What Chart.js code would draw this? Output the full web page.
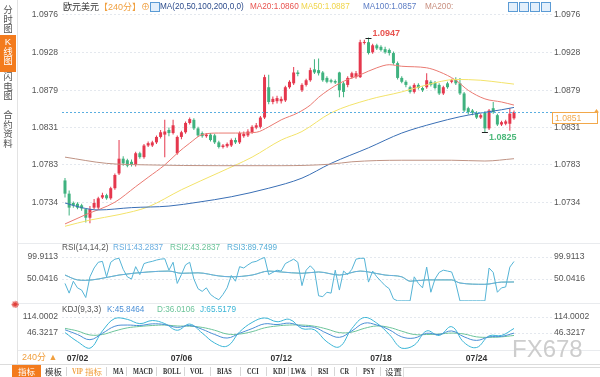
<!DOCTYPE html>
<html>
<head>
<meta charset="utf-8">
<script src="https://cdn.jsdelivr.net/npm/chart.js@4.4.1/dist/chart.umd.min.js"></script>
<style>
  body { margin: 0; background: #fff; font-family: "Liberation Sans", "Noto Sans CJK SC", sans-serif; }
  #wrap { position: relative; width: 600px; height: 377px; overflow: hidden; }
  canvas { position: absolute; left: 0; }
  .t { position: absolute; white-space: nowrap; font-size: 8.2px; line-height: 10px; }
  .hl { position: absolute; height: 1px; background: #e9ebee; }
  .tab { position: absolute; left: 0; width: 16px; text-align: center; font-size: 9.5px; line-height: 9.6px; color: #555; }
  .tab.on { background: #f37b1d; color: #fff; }
  .ico { position: absolute; top: 2px; width: 8px; height: 8px; border: 1px solid #5b9bd5; background: #e3effb; }
  #bar { position: absolute; left: 0; top: 364px; width: 600px; height: 13px; border-top: 1px solid #dcdcdc; font-family: "Liberation Serif", "Noto Sans CJK SC", serif; font-size: 8.8px; font-weight: bold; color: #333; }
  #bar span { position: absolute; top: 1px; line-height: 11px; white-space: nowrap; transform: scaleX(0.72); transform-origin: left center; }
  #bar span.cjk { font-family: "Noto Sans CJK SC", sans-serif; font-size: 8.5px; font-weight: normal; transform: none; }
  #bar i { position: absolute; top: 2px; width: 1px; height: 9px; background: #d6d6d6; }
</style>
</head>
<body>
<div id="wrap">
  <canvas id="main" width="600" height="240" style="top:0"></canvas>
  <canvas id="rsi" width="600" height="64" style="top:240px"></canvas>
  <canvas id="kdj" width="600" height="60" style="top:304px"></canvas>

  <!-- left tabs -->
  <div style="position:absolute;left:17px;top:0;width:1px;height:364px;background:#e3e3e3"></div>
  <div class="tab" style="top:5px">分<br>时<br>图</div>
  <div class="tab on" style="top:35px;height:37px;padding-top:2px;box-sizing:border-box">K<br>线<br>图</div>
  <div class="tab" style="top:72px">闪<br>电<br>图</div>
  <div class="tab" style="top:110px">合<br>约<br>资<br>料</div>

  <!-- panel separators -->
  <div class="hl" style="left:18px;top:243px;width:582px"></div>
  <div class="hl" style="left:18px;top:303px;width:582px"></div>
  <div class="hl" style="left:18px;top:350px;width:582px"></div>

  <!-- header -->
  <span class="t" style="left:63px;top:2px;color:#333;font-size:9px">欧元美元</span>
  <span class="t" style="left:99px;top:2px;color:#f0a040;font-size:9px">【240分】</span>
  <span class="t" style="left:141px;top:2px;color:#f0a040;font-size:9px">⊕</span>
  <span class="ico" style="left:150px"></span>
  <span class="t" style="left:160px;top:2px;color:#2d4c8c">MA(20,50,100,200,0,0)</span>
  <span class="t" id="lblMa20" style="left:250px;top:2px;color:#e8534f"></span>
  <span class="t" id="lblMa50" style="left:301px;top:2px;color:#f0d54a"></span>
  <span class="t" id="lblMa100" style="left:363px;top:2px;color:#5b7cc4"></span>
  <span class="t" style="left:425px;top:2px;color:#c99080">MA200:</span>
  <span class="ico" style="left:508px"></span>
  <span class="ico" style="left:519px"></span>
  <span class="ico" style="left:530px"></span>
  <span class="ico" style="left:541px"></span>

  <!-- indicator labels -->
  <span class="t" style="left:62px;top:243px;color:#555">RSI(14,14,2)</span>
  <span class="t" id="lblRsi1" style="left:113px;top:243px;color:#6aaee0"></span>
  <span class="t" id="lblRsi2" style="left:170px;top:243px;color:#6cc49a"></span>
  <span class="t" id="lblRsi3" style="left:227px;top:243px;color:#5ab0d8"></span>
  <span class="t" style="left:11px;top:300px;color:#e0403a;font-size:10px">✺</span>
  <span class="t" style="left:62px;top:305px;color:#555">KDJ(9,3,3)</span>
  <span class="t" id="lblK" style="left:107px;top:305px;color:#4a8fd6"></span>
  <span class="t" id="lblD" style="left:157px;top:305px;color:#6cc49a"></span>
  <span class="t" id="lblJ" style="left:200px;top:305px;color:#3ab5d6"></span>

  <span class="t" style="left:22px;top:352px;color:#f0a040;font-size:9px">240分 ▲</span>
  <span class="t" style="left:512px;top:336px;color:#cdcdcd;font-size:24px;line-height:26px">FX678</span>

  <!-- bottom toolbar -->
  <div id="bar">
    <span class="cjk" style="left:12px;top:0;width:29px;height:13px;background:#f37b1d;color:#fff;text-align:center;line-height:13px">指标</span>
    <span class="cjk" style="left:45px">模板</span><i style="left:66px"></i>
    <span style="left:72px;color:#f0a040">VIP</span><span class="cjk" style="left:85px;color:#f0a040">指标</span><i style="left:106px"></i>
    <span style="left:113px">MA</span><i style="left:126px"></i>
    <span style="left:133px">MACD</span><i style="left:156px"></i>
    <span style="left:163px">BOLL</span><i style="left:184px"></i>
    <span style="left:190px">VOL</span><i style="left:210px"></i>
    <span style="left:217px">BIAS</span><i style="left:240px"></i>
    <span style="left:247px">CCI</span><i style="left:266px"></i>
    <span style="left:273px">KDJ</span><i style="left:288px"></i>
    <span style="left:291px">LW&amp;</span><i style="left:311px"></i>
    <span style="left:318px">RSI</span><i style="left:334px"></i>
    <span style="left:340px">CR</span><i style="left:356px"></i>
    <span style="left:363px">PSY</span><i style="left:380px"></i>
    <span class="cjk" style="left:385px">设置</span>
    <div style="position:absolute;left:403px;top:2px;width:196px;height:10px;border:1px solid #dcdcdc;border-bottom:none"></div>
  </div>
</div>

<script>
// EUR/USD 240-minute candles
const opens = [1.0763,1.0746,1.0734,1.0733,1.0731,1.0726,1.0715,1.0728,1.0728,1.0741,1.0744,1.0740,1.0753,1.0772,1.0791,1.0789,1.0787,1.0783,1.0798,1.0793,
  1.0808,1.0808,1.0812,1.0819,1.0822,1.0828,1.0824,1.0798,1.0819,1.0825,1.0837,1.0841,1.0830,1.0824,1.0820,1.0822,1.0821,1.0812,1.0806,1.0807,
  1.0808,1.0815,1.0812,1.0820,1.0821,1.0825,1.0831,1.0832,1.0844,1.0883,1.0864,1.0865,1.0865,1.0866,1.0883,1.0888,1.0902,1.0879,1.0886,1.0892,
  1.0906,1.0905,1.0902,1.0895,1.0892,1.0891,1.0902,1.0888,1.0886,1.0896,1.0896,1.0896,1.0940,1.0941,1.0928,1.0937,1.0935,1.0932,1.0931,1.0927,
  1.0914,1.0895,1.0890,1.0883,1.0877,1.0886,1.0882,1.0883,1.0890,1.0889,1.0886,1.0875,1.0888,1.0890,1.0893,1.0888,1.0875,1.0856,1.0853,1.0850,
  1.0844,1.0850,1.0830,1.0856,1.0847,1.0835,1.0836,1.0836,1.0843];
const highs = [1.0766,1.0750,1.0736,1.0735,1.0733,1.0727,1.0730,1.0739,1.0742,1.0747,1.0746,1.0755,1.0772,1.0815,1.0794,1.0791,1.0790,1.0800,1.0800,1.0810,
  1.0813,1.0814,1.0821,1.0828,1.0841,1.0831,1.0841,1.0821,1.0827,1.0839,1.0844,1.0843,1.0832,1.0826,1.0824,1.0824,1.0823,1.0814,1.0810,1.0812,
  1.0817,1.0818,1.0826,1.0826,1.0829,1.0834,1.0837,1.0846,1.0899,1.0899,1.0871,1.0872,1.0871,1.0885,1.0892,1.0909,1.0905,1.0888,1.0894,1.0908,
  1.0919,1.0920,1.0904,1.0897,1.0894,1.0893,1.0903,1.0890,1.0897,1.0903,1.0904,1.0944,1.0944,1.0947,1.0939,1.0939,1.0937,1.0935,1.0933,1.0929,
  1.0916,1.0897,1.0892,1.0885,1.0888,1.0888,1.0884,1.0901,1.0892,1.0891,1.0888,1.0885,1.0890,1.0894,1.0896,1.0895,1.0877,1.0858,1.0855,1.0852,
  1.0849,1.0852,1.0855,1.0864,1.0849,1.0840,1.0841,1.0856,1.0853];
const lows = [1.0741,1.0718,1.0728,1.0726,1.0724,1.0709,1.0708,1.0726,1.0726,1.0739,1.0738,1.0738,1.0751,1.0770,1.0782,1.0780,1.0781,1.0781,1.0791,1.0791,
  1.0806,1.0806,1.0810,1.0817,1.0793,1.0820,1.0822,1.0796,1.0816,1.0823,1.0835,1.0828,1.0819,1.0818,1.0818,1.0813,1.0810,1.0804,1.0804,1.0805,
  1.0806,1.0810,1.0810,1.0818,1.0819,1.0823,1.0829,1.0830,1.0842,1.0861,1.0861,1.0862,1.0862,1.0864,1.0881,1.0886,1.0897,1.0877,1.0884,1.0890,
  1.0900,1.0898,1.0890,1.0888,1.0888,1.0887,1.0870,1.0870,1.0883,1.0894,1.0894,1.0895,1.0938,1.0925,1.0926,1.0931,1.0929,1.0926,1.0924,1.0912,
  1.0893,1.0888,1.0883,1.0875,1.0875,1.0880,1.0877,1.0881,1.0884,1.0880,1.0873,1.0873,1.0881,1.0888,1.0886,1.0873,1.0851,1.0848,1.0847,1.0842,
  1.0842,1.0825,1.0828,1.0849,1.0833,1.0833,1.0834,1.0827,1.0841];
const closes = [1.0746,1.0728,1.0731,1.0728,1.0727,1.0715,1.0726,1.0734,1.0740,1.0744,1.0740,1.0753,1.0770,1.0791,1.0785,1.0782,1.0783,1.0798,1.0793,1.0808,
  1.0811,1.0812,1.0819,1.0825,1.0826,1.0824,1.0834,1.0819,1.0825,1.0837,1.0842,1.0830,1.0821,1.0820,1.0822,1.0815,1.0812,1.0806,1.0808,1.0810,
  1.0815,1.0812,1.0824,1.0823,1.0826,1.0832,1.0834,1.0844,1.0896,1.0864,1.0868,1.0869,1.0868,1.0883,1.0890,1.0902,1.0900,1.0886,1.0892,1.0905,
  1.0902,1.0901,1.0892,1.0890,1.0890,1.0889,1.0879,1.0877,1.0895,1.0901,1.0901,1.0941,1.0941,1.0927,1.0937,1.0933,1.0931,1.0928,1.0927,1.0914,
  1.0895,1.0890,1.0886,1.0877,1.0886,1.0882,1.0879,1.0892,1.0886,1.0882,1.0875,1.0883,1.0883,1.0892,1.0888,1.0875,1.0853,1.0851,1.0850,1.0844,
  1.0847,1.0830,1.0853,1.0851,1.0835,1.0838,1.0839,1.0849,1.0851];

// moving averages, read at selected bars
const ma20Idx = [0, 5, 12, 17, 20, 24, 27, 30, 33, 37, 41, 46, 49, 52, 56, 59, 61, 66, 71, 75, 78, 81, 87, 90, 94, 97, 101, 105, 108];
const ma20Val = [1.0707, 1.0719, 1.0735, 1.0755, 1.0767, 1.0783, 1.0798, 1.0811, 1.0822, 1.0824, 1.0824, 1.0825, 1.0832, 1.0841, 1.0850, 1.0860, 1.0870, 1.0888, 1.0899, 1.0908, 1.0912, 1.0910, 1.0908, 1.0903, 1.0892, 1.0879, 1.0868, 1.0864, 1.0860];
const ma50Idx = [0, 6, 13, 20, 28, 37, 45, 52, 57, 64, 73, 81, 87, 94, 100, 105, 108];
const ma50Val = [1.0704, 1.0712, 1.0719, 1.0729, 1.0751, 1.0773, 1.0793, 1.0815, 1.0826, 1.0850, 1.0867, 1.0877, 1.0886, 1.0893, 1.0892, 1.0889, 1.0887];
const ma100Idx = [0, 4, 8, 16, 25, 32, 40, 49, 57, 64, 73, 81, 89, 95, 99, 105, 108];
const ma100Val = [1.0734, 1.0728, 1.0725, 1.0728, 1.0730, 1.0735, 1.0742, 1.0753, 1.0766, 1.0785, 1.0805, 1.0824, 1.0837, 1.0845, 1.0849, 1.0854, 1.0857];
const ma200Idx = [0, 10, 20, 37, 52, 64, 69, 81, 93, 101, 108];
const ma200Val = [1.0793, 1.0785, 1.0783, 1.0782, 1.0782, 1.0784, 1.0787, 1.0789, 1.0789, 1.0788, 1.0791];

// RSI(14,14,2)
const rsiSlowIdx = [0, 3, 5, 8, 13, 20, 25, 28, 32, 37, 40, 45, 49, 52, 57, 61, 66, 71, 73, 77, 81, 83, 87, 93, 95, 101, 105, 108];
const rsiSlow = [59, 48, 47, 50, 59, 66, 68, 63, 64, 57, 55, 59, 68, 66, 63, 66, 59, 68, 66, 59, 55, 45, 48, 48, 41, 38, 43, 43.2837];
const rsiFast = [40,18,45,30,25,8,55,75,88,90,55,88,95,97,72,55,50,78,60,85,
  88,90,93,95,96,70,88,40,60,82,88,50,28,22,30,15,8,3,15,30,
  58,45,78,75,82,88,90,95,99,60,65,70,68,85,90,95,88,35,70,80,
  70,12,10,20,18,70,25,68,60,72,95,97,97,43,68,55,45,35,28,5,
  0.5,0.5,0.5,0.5,55,40,30,77,20,50,65,70,68,66,40,0.5,0.5,0.5,0.5,0.5,
  0.5,0.5,75,65,20,30,32,77,89.7499];

// KDJ(9,3,3)
const kdjIdx = [0, 3, 6, 9, 12, 15, 18, 21, 24, 27, 30, 33, 36, 39, 42, 45, 48, 51, 54, 57, 60, 63, 66, 69, 72, 75, 78, 81, 84, 87, 90, 93, 96, 99, 102, 105, 108];
const kVals = [60, 40, 18, 45, 75, 80, 78, 85, 82, 70, 78, 62, 40, 25, 45, 65, 85, 82, 88, 75, 70, 45, 28, 55, 88, 80, 60, 30, 25, 45, 40, 55, 30, 15, 30, 32, 45.8464];
const dVals = [66, 55, 38, 40, 55, 68, 74, 78, 80, 76, 75, 70, 58, 42, 42, 52, 68, 76, 80, 80, 75, 63, 48, 50, 66, 76, 70, 54, 40, 40, 42, 46, 42, 30, 28, 30, 36.0106];
const jVals = [48, 10, -18, 55, 108, 104, 86, 99, 86, 58, 84, 46, 4, -9, 51, 91, 110, 94, 104, 65, 60, 9, -12, 65, 112, 88, 40, -18, -5, 55, 36, 73, 6, -15, 34, 36, 65.5179];

// scales & ticks
const mainTicks = [1.0976, 1.0928, 1.0879, 1.0831, 1.0783, 1.0734];
const rsiTicks = [99.9113, 50.0416];
const kdjTicks = [114.0002, 46.3217];
const xTickIdx = [3, 28, 52, 76, 99];
const xTickLabels = ["07/02", "07/06", "07/12", "07/18", "07/24"];
const lastPrice = 1.0851;
const highIdx = 73;
const lowIdx = 101;

const X_MIN = -0.72, X_MAX = 117.14;
const UP = "#e5374d", DOWN = "#3fb27f";

Chart.defaults.font.family = '"Liberation Sans", Arial, sans-serif';
Chart.defaults.font.size = 8.6;
Chart.defaults.color = "#555";
Chart.defaults.animation = false;

function pts(xs, ys) {
  return xs.map((x, i) => ({ x: x, y: ys[i] }));
}

// keep tick labels from pushing the plot area around
function noPad(axis) {
  axis.paddingTop = 0; axis.paddingBottom = 0;
  axis.paddingLeft = 0; axis.paddingRight = 0;
}

function yScales(min, max, ticks, digits) {
  const setTicks = axis => { axis.ticks = ticks.map(v => ({ value: v })); };
  return {
    y: {
      type: "linear", position: "left", min: min, max: max,
      afterBuildTicks: setTicks,
      afterFit: axis => { axis.width = 62; noPad(axis); },
      grid: { color: "#e4e8ee", drawTicks: false },
      border: { display: false, dash: [2, 2] },
      ticks: { padding: 4, color: "#555", callback: v => v.toFixed(digits) },
    },
    yr: {
      type: "linear", position: "right", min: min, max: max,
      afterBuildTicks: setTicks,
      afterFit: axis => { axis.width = 48; noPad(axis); },
      grid: { display: false, drawTicks: false },
      border: { display: false },
      ticks: { padding: 2, color: "#555", callback: v => v.toFixed(digits) },
    },
  };
}

const hiddenX = { type: "linear", min: X_MIN, max: X_MAX, offset: false, display: false };

const baseOptions = {
  responsive: false,
  plugins: { legend: { display: false }, tooltip: { enabled: false } },
};

// main price panel
const barIdx = closes.map((c, i) => i);
const candleColors = barIdx.map(i => closes[i] >= opens[i] ? UP : DOWN);

const priceMarks = {
  id: "priceMarks",
  afterDatasetsDraw(chart) {
    const { ctx, chartArea, scales } = chart;
    const xs = scales.x, ys = scales.y;
    const yp = Math.round(ys.getPixelForValue(lastPrice)) + 0.5;
    ctx.save();
    // current price line
    ctx.strokeStyle = "#5aaee0";
    ctx.lineWidth = 1;
    ctx.setLineDash([2, 2]);
    ctx.beginPath();
    ctx.moveTo(chartArea.left, yp);
    ctx.lineTo(chartArea.right, yp);
    ctx.stroke();
    ctx.setLineDash([]);
    // price box
    ctx.fillStyle = "#fff";
    ctx.fillRect(chartArea.right, yp, 46, 11);
    ctx.strokeStyle = "#f2a84a";
    ctx.strokeRect(chartArea.right + 0.5, yp, 45, 11);
    ctx.fillStyle = "#f2a84a";
    ctx.beginPath();
    ctx.moveTo(chartArea.right + 42, yp);
    ctx.lineTo(chartArea.right + 44.5, yp - 3.5);
    ctx.lineTo(chartArea.right + 47, yp);
    ctx.fill();
    ctx.font = '8.6px "Liberation Sans", Arial, sans-serif';
    ctx.textBaseline = "middle";
    ctx.fillText(lastPrice.toFixed(4), chartArea.right + 3, yp + 6);
    // high / low markers
    ctx.font = 'bold 9px "Liberation Sans", Arial, sans-serif';
    const hx = xs.getPixelForValue(highIdx), hy = Math.round(ys.getPixelForValue(highs[highIdx])) + 0.5;
    ctx.strokeStyle = "#222";
    ctx.beginPath();
    ctx.moveTo(hx - 3, hy); ctx.lineTo(hx + 3, hy);
    ctx.stroke();
    ctx.fillStyle = "#e8534f";
    ctx.textBaseline = "bottom";
    ctx.fillText(highs[highIdx].toFixed(4), hx + 4, hy);
    const lx = xs.getPixelForValue(lowIdx), ly = Math.round(ys.getPixelForValue(lows[lowIdx])) + 0.5;
    ctx.beginPath();
    ctx.moveTo(lx - 3, ly); ctx.lineTo(lx + 3, ly);
    ctx.stroke();
    ctx.fillStyle = "#4cb87a";
    ctx.textBaseline = "top";
    ctx.fillText(lows[lowIdx].toFixed(4), lx + 4, ly + 1);
    ctx.restore();
  },
};

function maLine(xs, ys, color) {
  return {
    type: "line", data: pts(xs, ys), borderColor: color, borderWidth: 1,
    pointRadius: 0, cubicInterpolationMode: "monotone", order: 0,
  };
}

new Chart(document.getElementById("main"), {
  type: "bar",
  data: {
    datasets: [
      {
        data: barIdx.map(i => ({ x: i, y: [lows[i], highs[i]] })),
        backgroundColor: candleColors, maxBarThickness: 1, grouped: false, order: 3,
      },
      {
        data: barIdx.map(i => ({ x: i, y: [opens[i], closes[i]] })),
        backgroundColor: candleColors, maxBarThickness: 3, grouped: false, minBarLength: 1, order: 2,
      },
      maLine(ma200Idx, ma200Val, "#bf9384"),
      maLine(ma100Idx, ma100Val, "#3a6fb5"),
      maLine(ma50Idx, ma50Val, "#f3e36a"),
      maLine(ma20Idx, ma20Val, "#ea7a72"),
    ],
  },
  options: {
    ...baseOptions,
    layout: { padding: { top: 8, bottom: 2 } },
    scales: {
      x: hiddenX,
      ...yScales(1.06889, 1.09850, mainTicks, 4),
    },
  },
  plugins: [priceMarks],
});

// RSI panel
new Chart(document.getElementById("rsi"), {
  type: "line",
  data: {
    datasets: [
      { data: barIdx.map(i => ({ x: i, y: rsiFast[i] })), borderColor: "#55b4d6", borderWidth: 1, pointRadius: 0 },
      { data: pts(rsiSlowIdx, rsiSlow), borderColor: "#6aaee0", borderWidth: 1, pointRadius: 0, cubicInterpolationMode: "monotone" },
      { data: pts(rsiSlowIdx, rsiSlow), borderColor: "#7cc9a0", borderWidth: 1, pointRadius: 0, cubicInterpolationMode: "monotone" },
    ],
  },
  options: {
    ...baseOptions,
    layout: { padding: { top: 17, bottom: 3 } },
    scales: {
      x: hiddenX,
      ...yScales(0.1719, 99.9113, rsiTicks, 4),
    },
  },
});

// KDJ panel with the time axis
new Chart(document.getElementById("kdj"), {
  type: "line",
  data: {
    datasets: [
      { data: pts(kdjIdx, kVals), borderColor: "#4a8fd6", borderWidth: 1, pointRadius: 0, tension: 0.4 },
      { data: pts(kdjIdx, dVals), borderColor: "#6cc49a", borderWidth: 1, pointRadius: 0, tension: 0.4 },
      { data: pts(kdjIdx, jVals), borderColor: "#3ab5d6", borderWidth: 1, pointRadius: 0, tension: 0.4 },
    ],
  },
  options: {
    ...baseOptions,
    layout: { padding: { top: 13, bottom: 0 } },
    scales: {
      x: {
        type: "linear", min: X_MIN, max: X_MAX, offset: false, position: "bottom",
        afterBuildTicks: axis => { axis.ticks = xTickIdx.map(v => ({ value: v })); },
        afterFit: axis => { axis.height = 15; noPad(axis); },
        grid: { display: false, drawTicks: false },
        border: { display: false },
        ticks: {
          autoSkip: false, maxRotation: 0, padding: 4, color: "#333",
          font: { weight: "bold", size: 8.6 },
          callback: v => xTickLabels[xTickIdx.indexOf(v)],
        },
      },
      ...yScales(-21.3568, 114.0002, kdjTicks, 4),
    },
  },
});

// indicator value labels
const last = a => a[a.length - 1];
document.getElementById("lblMa20").textContent = "MA20:" + last(ma20Val).toFixed(4);
document.getElementById("lblMa50").textContent = "MA50:" + last(ma50Val).toFixed(4);
document.getElementById("lblMa100").textContent = "MA100:" + last(ma100Val).toFixed(4);
document.getElementById("lblRsi1").textContent = "RSI1:" + last(rsiSlow).toFixed(4);
document.getElementById("lblRsi2").textContent = "RSI2:" + last(rsiSlow).toFixed(4);
document.getElementById("lblRsi3").textContent = "RSI3:" + last(rsiFast).toFixed(4);
document.getElementById("lblK").textContent = "K:" + last(kVals).toFixed(4);
document.getElementById("lblD").textContent = "D:" + last(dVals).toFixed(4);
document.getElementById("lblJ").textContent = "J:" + last(jVals).toFixed(4);
</script>
</body>
</html>
